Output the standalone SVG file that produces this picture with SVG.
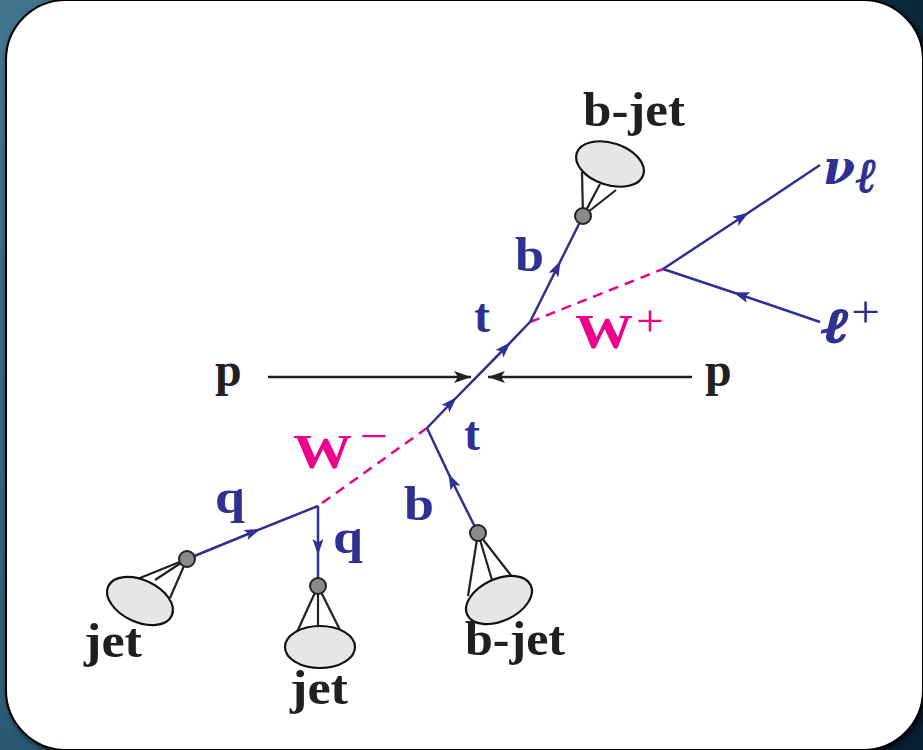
<svg xmlns="http://www.w3.org/2000/svg" width="923" height="750" viewBox="0 0 923 750">
<defs>
<linearGradient id="bg" x1="0" y1="0" x2="1" y2="0.35">
<stop offset="0" stop-color="#42778f"/>
<stop offset="0.5" stop-color="#1d4a63"/>
<stop offset="1" stop-color="#061f33"/>
</linearGradient>
<filter id="sh" x="-5%" y="-5%" width="110%" height="110%">
<feGaussianBlur stdDeviation="3"/>
</filter>
<marker id="fa" markerUnits="userSpaceOnUse" markerWidth="16" markerHeight="11" refX="8" refY="5.5" orient="auto" overflow="visible">
<path d="M0,0 L16,5.5 L0,11 L3.5,5.5 Z" fill="#2e3192"/>
</marker>
<marker id="pa" markerUnits="userSpaceOnUse" markerWidth="17" markerHeight="12" refX="17" refY="6" orient="auto" overflow="visible">
<path d="M0,0 L17,6 L0,12 L4,6 Z" fill="#231f20"/>
</marker>
<style>
.f{fill:none;stroke:#2e3192;stroke-width:2.5;marker-mid:url(#fa)}
.w{fill:none;stroke:#ec008c;stroke-width:2.5;stroke-dasharray:10 7}
.pl{fill:none;stroke:#231f20;stroke-width:2.5;marker-end:url(#pa)}
.ball{fill:#8a8a8a;stroke:#222;stroke-width:2}
.ell{fill:#e6e6e6;stroke:#111;stroke-width:2.2}
.jl{stroke:#222;stroke-width:2.2}
text{font-family:"Liberation Serif","DejaVu Serif",serif;font-weight:bold;font-size:48px}
.k{fill:#231f20}
.bl{fill:#2e3192}
.mg{fill:#ec008c}
.op{font-weight:normal;font-size:44px}
.it{font-family:"DejaVu Serif",serif;font-style:italic;font-weight:bold}
.ell2{stroke:#2e3192}
</style>
</defs>
<rect x="0" y="0" width="923" height="750" fill="url(#bg)"/>
<rect x="8" y="2" width="917" height="750" rx="60" fill="#000" filter="url(#sh)"/>
<rect x="6" y="0" width="917" height="750" rx="60" fill="#fff" stroke="#000" stroke-width="2"/>

<g id="connectors">
<path class="w" d="M530,322 L663,269"/>
<path class="w" d="M427,428 L318,506"/>
<path class="f" d="M427,428 L451,403 L505,348 L530,322"/>
<path class="f" d="M530,322 L557,268 L583,216"/>
<path class="f" d="M663,269 L742,217 L820,165"/>
<path class="f" d="M820,322 L741,295 L663,269"/>
<path class="f" d="M478,533 L452,481 L427,428"/>
<path class="f" d="M187,559 L253,532 L318,506"/>
<path class="f" d="M318,506 L318,547 L318,586"/>
<path class="pl" d="M268,377 L471,377"/>
<path class="pl" d="M692,377 L488,377"/>
</g>

<g id="bjet-top">
<line class="jl" x1="583" y1="216" x2="582" y2="172"/>
<line class="jl" x1="583" y1="216" x2="600" y2="184"/>
<line class="jl" x1="583" y1="216" x2="616" y2="190"/>
<ellipse class="ell" cx="610" cy="164" rx="35" ry="21" transform="rotate(18 610 164)"/>
<circle class="ball" cx="583" cy="216" r="8"/>
<text class="k" x="583" y="126" textLength="102" lengthAdjust="spacingAndGlyphs">b-jet</text>
</g>

<g id="jet-left">
<line class="jl" x1="187" y1="559" x2="135" y2="580"/>
<line class="jl" x1="187" y1="559" x2="155" y2="580"/>
<line class="jl" x1="187" y1="559" x2="170" y2="598"/>
<ellipse class="ell" cx="140" cy="601" rx="35" ry="21" transform="rotate(25 140 601)"/>
<circle class="ball" cx="187" cy="559" r="8"/>
<text class="k" x="84" y="657" textLength="58" lengthAdjust="spacingAndGlyphs">jet</text>
</g>

<g id="jet-mid">
<line class="jl" x1="318" y1="586" x2="297" y2="632"/>
<line class="jl" x1="318" y1="586" x2="318" y2="627"/>
<line class="jl" x1="318" y1="586" x2="341" y2="632"/>
<ellipse class="ell" cx="320" cy="647" rx="35" ry="21"/>
<circle class="ball" cx="318" cy="586" r="8"/>
<text class="k" x="290" y="704" textLength="58" lengthAdjust="spacingAndGlyphs">jet</text>
</g>

<g id="bjet-bottom">
<line class="jl" x1="478" y1="533" x2="468" y2="596"/>
<line class="jl" x1="478" y1="533" x2="492" y2="580"/>
<line class="jl" x1="478" y1="533" x2="513" y2="578"/>
<ellipse class="ell" cx="499" cy="600" rx="35" ry="21" transform="rotate(-25 499 600)"/>
<circle class="ball" cx="478" cy="533" r="8"/>
<text class="k" x="465" y="655" textLength="100" lengthAdjust="spacingAndGlyphs">b-jet</text>
</g>

<g id="labels">
<text class="k" x="215" y="386">p</text>
<text class="k" x="705" y="386">p</text>
<text class="bl" x="474" y="332">t</text>
<text class="bl" x="464" y="450">t</text>
<text class="bl" x="515" y="271" textLength="29" lengthAdjust="spacingAndGlyphs">b</text>
<text class="bl" x="404" y="520" textLength="30" lengthAdjust="spacingAndGlyphs">b</text>
<text class="bl" x="215" y="513" textLength="30" lengthAdjust="spacingAndGlyphs">q</text>
<text class="bl" x="333" y="553" textLength="30" lengthAdjust="spacingAndGlyphs">q</text>
<text class="mg" x="575" y="348" textLength="58" lengthAdjust="spacingAndGlyphs">W</text>
<text class="mg op" x="636" y="336" textLength="28" lengthAdjust="spacingAndGlyphs">+</text>
<text class="mg" x="293" y="468" textLength="59" lengthAdjust="spacingAndGlyphs">W</text>
<text class="mg op" x="360" y="451" textLength="28" lengthAdjust="spacingAndGlyphs">−</text>
<text class="bl it" x="823" y="184" font-size="42" textLength="32" lengthAdjust="spacingAndGlyphs">ν</text>
<text class="bl it ell2" x="856" y="192" font-size="34" stroke-width="1.2">ℓ</text>
<text class="bl it ell2" x="822" y="342" font-size="62" stroke-width="2" textLength="27" lengthAdjust="spacingAndGlyphs">ℓ</text>
<text class="bl op" x="851" y="327" textLength="29" lengthAdjust="spacingAndGlyphs">+</text>
</g>
</svg>
